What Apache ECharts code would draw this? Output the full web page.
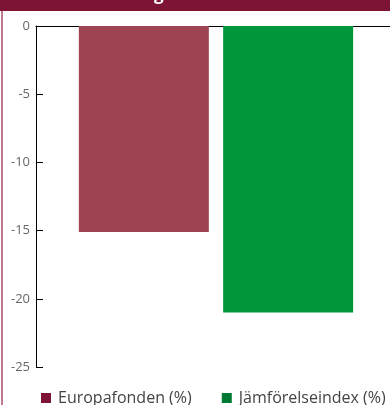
<!DOCTYPE html>
<html>
<head>
<meta charset="utf-8">
<script src="https://cdn.jsdelivr.net/npm/echarts@6/dist/echarts.min.js"></script>
<style>
  html, body { margin: 0; padding: 0; background: #fff; }
  #chart { width: 390px; height: 405px; }
</style>
</head>
<body>
<div id="chart"></div>
<script>
// data
const categories = [''];
const seriesNames = ['Europafonden (%)', 'Jämförelseindex (%)'];
const europafonden = [-15.1];
const jamforelseindex = [-21.0];
const yTicks = [0, -5, -10, -15, -20, -25];

const chart = echarts.init(document.getElementById('chart'), null, {width: 390, height: 405});

const option = {
    animation: false,
    textStyle: {fontFamily: 'Open Sans'},
    grid: {left: 36, right: -6, top: 26, bottom: 38, outerBoundsMode: 'none', containLabel: false},
    graphic: [
        {type: 'rect', left: 0, top: 0, shape: {width: 390, height: 11}, style: {fill: '#7d1434'}, z: 10},
        {type: 'text', x: 154, y: -13, style: {text: 'g', fill: '#fff', font: 'bold 17px Open Sans'}, z: 11},
        {type: 'rect', left: 1, top: 11, shape: {width: 2, height: 394}, style: {fill: '#c07a90'}, z: 10}
    ],
    legend: {
        left: 41,
        top: 390,
        padding: 0,
        itemWidth: 10,
        itemHeight: 10,
        itemGap: 30,
        icon: 'rect',
        textStyle: {fontSize: 16, color: '#444', fontFamily: 'Open Sans', padding: [0, 0, 0, 2]},
        data: [
            {name: seriesNames[0], itemStyle: {color: '#7d1434'}},
            {name: seriesNames[1], itemStyle: {color: '#007a33'}}
        ]
    },
    xAxis: {
        type: 'category',
        data: categories,
        position: 'top',
        axisLine: {lineStyle: {color: '#000', width: 1}},
        axisTick: {show: false},
        axisLabel: {show: false}
    },
    yAxis: {
        type: 'value',
        min: yTicks[yTicks.length - 1],
        max: yTicks[0],
        interval: 5,
        axisLine: {show: true, lineStyle: {color: '#000', width: 1}},
        axisTick: {show: true, inside: true, length: 7, lineStyle: {color: '#000'}},
        axisLabel: {color: '#666', fontSize: 13, margin: 6},
        splitLine: {show: false}
    },
    series: [
        {
            name: seriesNames[0],
            type: 'bar',
            barWidth: 130,
            barGap: '11%',
            itemStyle: {color: '#9e4452'},
            data: europafonden
        },
        {
            name: seriesNames[1],
            type: 'bar',
            barWidth: 130,
            itemStyle: {color: '#00963b'},
            data: jamforelseindex
        }
    ]
};
chart.setOption(option);
</script>
</body>
</html>
